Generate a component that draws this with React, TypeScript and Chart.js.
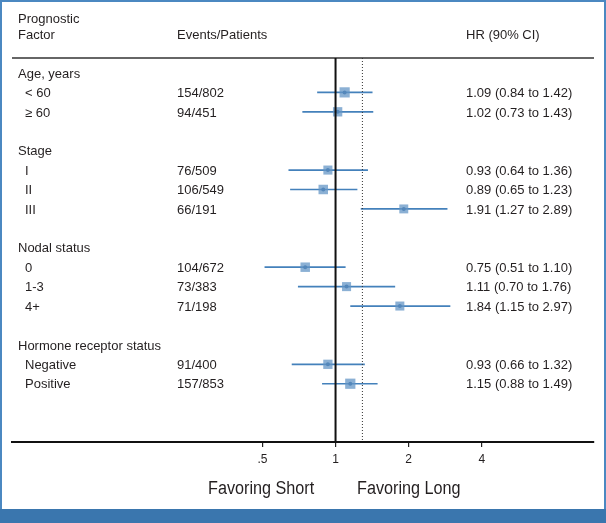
import React, { useEffect, useRef } from "react";
import { Chart, registerables } from "chart.js";

Chart.register(...registerables);

// ---- data ----
const groupLabels = ["Age, years", "Stage", "Nodal status", "Hormone receptor status"];
const groupRows = [0, 4, 9, 14];
const factorLabels = ["< 60", "\u2265 60", "I", "II", "III", "0", "1-3", "4+", "Negative", "Positive"];
const factorRows = [1, 2, 5, 6, 7, 10, 11, 12, 15, 16];
const events = [154, 94, 76, 106, 66, 104, 73, 71, 91, 157];
const patients = [802, 451, 509, 549, 191, 672, 383, 198, 400, 853];
const hr = [1.09, 1.02, 0.93, 0.89, 1.91, 0.75, 1.11, 1.84, 0.93, 1.15];
const ciLow = [0.84, 0.73, 0.64, 0.65, 1.27, 0.51, 0.7, 1.15, 0.66, 0.88];
const ciHigh = [1.42, 1.43, 1.36, 1.23, 2.89, 1.1, 1.76, 2.97, 1.32, 1.49];
const xTicks = [0.5, 1, 2, 4];
const xTickLabels = [".5", "1", "2", "4"];
const overallHR = 1.29;
const nullHR = 1;

const X_MIN = 0.0465;
const X_MAX = 11.6;
const Y_MIN = -0.77;
const Y_MAX = 19;

const FONT = "'Liberation Sans', Arial, Helvetica, sans-serif";
const TEXT_COLOR = "#231f20";

export default function App() {
  const ref = useRef<HTMLCanvasElement | null>(null);

  useEffect(() => {
    document.body.style.margin = "0";
    const canvas = ref.current;
    if (!canvas) return;

    const framePlugin = {
      id: "frame",
      beforeDraw(chart: any) {
        const ctx = chart.ctx;
        ctx.save();
        ctx.fillStyle = "#ffffff";
        ctx.fillRect(0, 0, chart.width, chart.height);
        ctx.restore();
      },
      afterDraw(chart: any) {
        const ctx = chart.ctx;
        ctx.save();
        ctx.strokeStyle = "#4b88c1";
        ctx.lineWidth = 2;
        ctx.strokeRect(1, 1, chart.width - 2, chart.height - 2);
        ctx.fillStyle = "#3a76ae";
        ctx.fillRect(0, 509, chart.width, chart.height - 509);
        ctx.restore();
      },
    };

    const condensedText = (ctx: any, text: string, x: number, y: number, size: number, sx: number) => {
      ctx.save();
      ctx.font = `${size}px ${FONT}`;
      ctx.translate(x, y);
      ctx.scale(sx, 1);
      ctx.fillText(text, 0, 0);
      ctx.restore();
    };

    const forestPlugin = {
      id: "forest",
      beforeDatasetsDraw(chart: any) {
        const ctx = chart.ctx;
        const xs = chart.scales.x;
        const ys = chart.scales.y;
        const area = chart.chartArea;
        ctx.save();
        // header rule
        ctx.strokeStyle = "#333333";
        ctx.lineWidth = 1.5;
        ctx.beginPath();
        ctx.moveTo(area.left, area.top);
        ctx.lineTo(area.right, area.top);
        ctx.stroke();
        // CI lines
        ctx.strokeStyle = "#4481bb";
        ctx.lineWidth = 1.7;
        for (let i = 0; i < hr.length; i++) {
          const y = ys.getPixelForValue(factorRows[i]);
          ctx.beginPath();
          ctx.moveTo(xs.getPixelForValue(ciLow[i]), y);
          ctx.lineTo(xs.getPixelForValue(ciHigh[i]), y);
          ctx.stroke();
        }
        ctx.restore();
      },
      afterDraw(chart: any) {
        const ctx = chart.ctx;
        const ys = chart.scales.y;
        ctx.save();
        ctx.fillStyle = TEXT_COLOR;
        ctx.font = `13px ${FONT}`;
        ctx.textBaseline = "alphabetic";
        ctx.textAlign = "left";
        // header
        ctx.fillText("Prognostic", 18, 23);
        ctx.fillText("Factor", 18, 38.5);
        ctx.fillText("Events/Patients", 177, 38.5);
        ctx.fillText("HR (90% CI)", 466, 38.5);
        for (let g = 0; g < groupLabels.length; g++) {
          const y = ys.getPixelForValue(groupRows[g]);
          ctx.fillText(groupLabels[g], 18, y + 4.7);
        }
        for (let i = 0; i < factorLabels.length; i++) {
          const y = ys.getPixelForValue(factorRows[i]) + 4.7;
          ctx.fillText(factorLabels[i], 25, y);
          ctx.fillText(`${events[i]}/${patients[i]}`, 177, y);
          ctx.fillText(
            `${hr[i].toFixed(2)} (${ciLow[i].toFixed(2)} to ${ciHigh[i].toFixed(2)})`,
            466,
            y
          );
        }
        // favoring labels
        condensedText(ctx, "Favoring Short", 208, 494, 18, 0.9);
        condensedText(ctx, "Favoring Long", 357, 494, 18, 0.9);
        ctx.restore();
      },
    };

    const squares = hr.map((v, i) => ({ x: v, y: factorRows[i] }));
    const squareRadius = events.map((e) => (8 + e / 70) / (2 * Math.SQRT1_2));

    const chart = new Chart(canvas, {
      type: "scatter",
      data: {
        datasets: [
          {
            type: "line",
            data: [
              { x: nullHR, y: Y_MIN },
              { x: nullHR, y: Y_MAX },
            ],
            borderColor: "#111111",
            borderWidth: 2,
            pointRadius: 0,
            showLine: true,
          } as any,
          {
            type: "line",
            data: [
              { x: overallHR, y: Y_MIN },
              { x: overallHR, y: Y_MAX },
            ],
            borderColor: "#333333",
            borderWidth: 1,
            borderDash: [1, 2],
            pointRadius: 0,
            showLine: true,
          } as any,
          {
            data: squares,
            pointStyle: "rect",
            pointRadius: squareRadius,
            backgroundColor: "rgba(100,150,198,0.75)",
            borderWidth: 0,
          },
          {
            data: squares,
            pointStyle: "circle",
            pointRadius: 2,
            backgroundColor: "#245b97",
            borderWidth: 0,
          },
        ],
      },
      options: {
        animation: false,
        responsive: false,
        devicePixelRatio: 1,
        events: [],
        layout: { padding: { top: 58, left: 12, right: 12, bottom: 0 } },
        plugins: {
          legend: { display: false },
          tooltip: { enabled: false },
        },
        scales: {
          x: {
            type: "logarithmic",
            min: X_MIN,
            max: X_MAX,
            afterBuildTicks: (scale: any) => {
              scale.ticks = xTicks.map((v) => ({ value: v }));
            },
            afterFit: (scale: any) => {
              scale.height = 81;
            },
            ticks: {
              autoSkip: false,
              maxRotation: 0,
              padding: 5,
              color: TEXT_COLOR,
              font: { family: FONT, size: 12 },
              callback: (value: any) => {
                const idx = xTicks.indexOf(Number(value));
                return idx >= 0 ? xTickLabels[idx] : "";
              },
            },
            grid: {
              display: true,
              drawOnChartArea: false,
              drawTicks: true,
              tickLength: 5,
              color: "#222222",
              lineWidth: 1.2,
            },
            border: { display: true, color: "#111111", width: 2 },
          },
          y: {
            type: "linear",
            display: false,
            reverse: true,
            min: Y_MIN,
            max: Y_MAX,
          },
        },
      },
      plugins: [framePlugin, forestPlugin],
    } as any);

    return () => chart.destroy();
  }, []);

  return (
    <div style={{ width: 606, height: 523 }}>
      <canvas ref={ref} width={606} height={523} style={{ display: "block" }} />
    </div>
  );
}
